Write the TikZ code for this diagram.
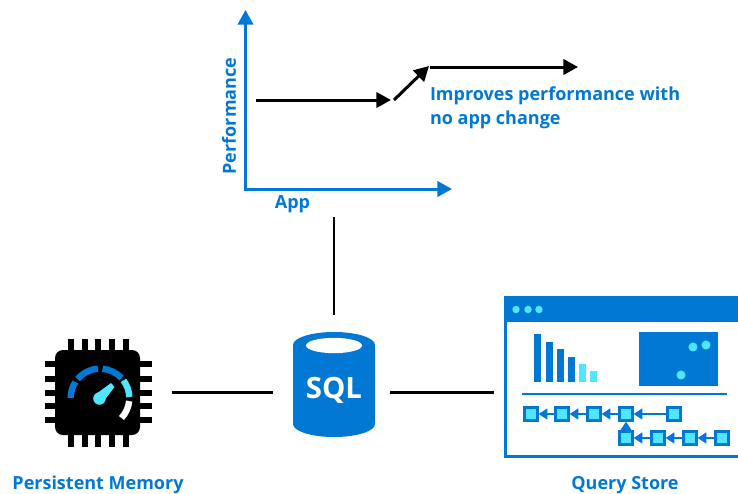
\documentclass[tikz,border=0pt]{standalone}
\usepackage{fontspec}
\setmainfont{Open Sans}
\usepackage{xcolor}
\usepackage{tikz}
\usetikzlibrary{arrows.meta,shapes.geometric}
\definecolor{myblue}{RGB}{0,120,212}
\definecolor{mycyan}{RGB}{80,230,255}

\begin{document}
\begin{tikzpicture}[x=0.75pt, y=-0.75pt, every node/.style={inner sep=0pt, outer sep=0pt},
    label/.style={text=myblue, font=\bfseries\fontsize{13.5}{18}\selectfont},
    axis/.style={myblue, line width=2.25pt, -{Triangle[length=11pt, width=11.5pt]}},
    trend/.style={black, line width=2.25pt, -{Triangle[length=11pt, width=11.5pt]}},
    link/.style={black, line width=1.9pt},
    qnode/.style={rectangle, draw=myblue, fill=mycyan, line width=2.2pt, minimum size=9.2pt, outer sep=1.1pt},
    qedge/.style={myblue, line width=2.2pt, -{Triangle[length=6.5pt, width=8pt]}}]
    \useasboundingbox (0,0) rectangle (738,493);

    % chart
    \coordinate (O) at (245.5,189);
    \coordinate (Y) at (245.5,10);
    \coordinate (X) at (452,189);
    \coordinate (A) at (256,100);
    \coordinate (B) at (391,100);
    \coordinate (C) at (394,100);
    \coordinate (D) at (429,66);
    \coordinate (E) at (430,67);
    \coordinate (F) at (578,67);
    \coordinate (foot) at (334,217);
    \draw[axis, shorten <=-1.1pt] (O) -- (Y);
    \draw[axis, shorten <=-1.1pt] (O) -- (X);
    \draw[trend] (A) -- (B);
    \draw[trend] (C) -- (D);
    \draw[trend] (E) -- (F);
    \node[label, rotate=90] (perf) at (229,116) {Performance};
    \node[label] (app) at (292.5,204) {App};
    \node[label, anchor=west] (impr1) at (430,96) {Improves performance with};
    \node[label, anchor=west] (impr2) at (430,120) {no app change};

    % chip
    \draw[black, line width=4.5pt]
        (71,339) -- (71,447) (84.5,339) -- (84.5,447) (98,339) -- (98,447)
        (112,339) -- (112,447) (126,339) -- (126,447)
        (45,364) -- (152,364) (45,379) -- (152,379) (45,392.5) -- (152,392.5)
        (45,406) -- (152,406) (45,420) -- (152,420);
    \node[rectangle, rounded corners=6pt, fill=black, minimum size=63.75pt] (chip) at (97.5,392.5) {};
    \draw[myblue, line width=4.8pt] (100,398) ++(180:22pt) arc[start angle=180, end angle=147, radius=22pt];
    \draw[myblue, line width=4.8pt] (100,398) ++(140:22pt) arc[start angle=140, end angle=94, radius=22pt];
    \draw[myblue, line width=4.8pt] (100,398) ++(85:22pt) arc[start angle=85, end angle=43, radius=22pt];
    \draw[mycyan, line width=4.8pt] (100,398) ++(37:22pt) arc[start angle=37, end angle=2, radius=22pt];
    \draw[white, line width=4.8pt] (100,398) ++(-6:22pt) arc[start angle=-6, end angle=-43, radius=22pt];
    \fill[mycyan] (96,394) -- (111,383) -- (114.5,387) -- (103,402) -- cycle;
    \fill[mycyan] (99.5,398.5) circle[radius=4.7pt];
    \node[label] (pmem) at (98,485) {Persistent Memory};

    % database
    \node[rectangle, minimum width=61.5pt, minimum height=79pt] (sql) at (334,384.5) {};
    \fill[myblue] (293,345) arc[start angle=180, end angle=0, x radius=30.75pt, y radius=9.75pt]
        -- (375,424) arc[start angle=0, end angle=-180, x radius=30.75pt, y radius=9.75pt] -- cycle;
    \node[ellipse, fill=white, minimum width=42pt, minimum height=11.5pt] (sqltop) at (334,345.5) {};
    \node[text=white, font=\bfseries\fontsize{22}{24}\selectfont] (sqltext) at (334,390) {SQL};

    % query store
    \node[rectangle, draw=myblue, line width=2.25pt, minimum width=176pt, minimum height=119pt] (store) at (622.8,377.1) {};
    \node[rectangle, fill=myblue, minimum width=180pt, minimum height=18.75pt] (title) at (624,309.5) {};
    \fill[mycyan] (516,309.5) circle[radius=2.8pt] (528,309.5) circle[radius=2.8pt] (539,309.5) circle[radius=2.8pt];
    \fill[myblue] (534,334) rectangle (541,382);
    \fill[myblue] (546,342) rectangle (553,382);
    \fill[myblue] (557,349) rectangle (564,382);
    \fill[myblue] (568,357) rectangle (575,382);
    \fill[mycyan] (579,364) rectangle (586,382);
    \fill[mycyan] (590,371) rectangle (597,382);
    \fill[myblue] (639,332) rectangle (718,386);
    \fill[mycyan] (693,347) circle[radius=3.4pt] (706,345) circle[radius=3.4pt] (681,375) circle[radius=3.4pt];
    \draw[myblue, line width=1.5pt] (522,394) -- (727,394);

    \node[qnode] (q1) at (531,414) {};
    \node[qnode] (q2) at (562,414) {};
    \node[qnode] (q3) at (594,414) {};
    \node[qnode] (q4) at (626,414) {};
    \node[qnode] (q5) at (674,414) {};
    \node[qnode] (r1) at (626,438) {};
    \node[qnode] (r2) at (658,438) {};
    \node[qnode] (r3) at (690,438) {};
    \node[qnode] (r4) at (722,438) {};
    \path (q2) edge [qedge] (q1)
          (q3) edge [qedge] (q2)
          (q4) edge [qedge] (q3)
          (q5) edge [qedge] (q4)
          (r1) edge [qedge] (q4)
          (r2) edge [qedge] (r1)
          (r3) edge [qedge] (r2)
          (r4) edge [qedge] (r3);
    \node[label] (qstore) at (625,485) {Query Store};

    % links
    \draw[link, shorten <=13pt] (sql.north) -- (foot);
    \draw[link, shorten <=24pt, shorten >=15pt] (chip.east) -- (chip.east -| sql.west);
    \draw[link, shorten <=11pt, shorten >=8.6pt] (sql.east |- chip.east) -- (store.west |- chip.east);
\end{tikzpicture}
\end{document}
